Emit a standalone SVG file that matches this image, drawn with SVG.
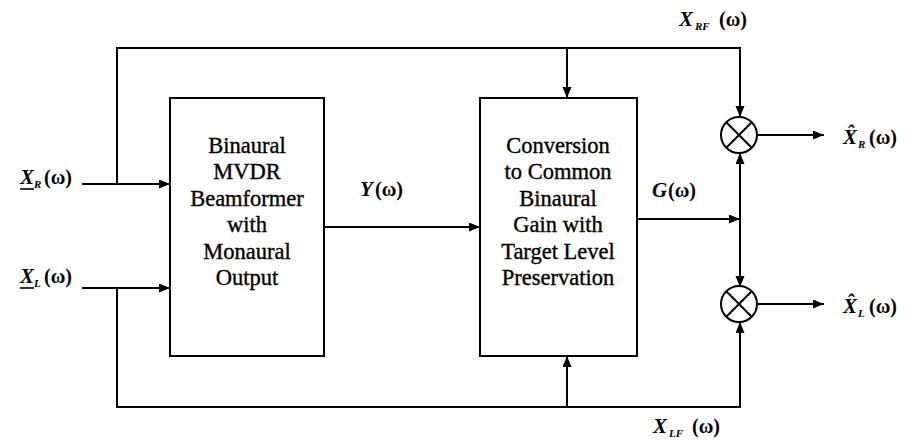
<svg xmlns="http://www.w3.org/2000/svg" width="916" height="444" viewBox="0 0 916 444" font-family="Liberation Serif, Times New Roman, DejaVu Serif, serif">
<style>
.ln{fill:none;stroke:#000;stroke-width:2}
.box{fill:#fff;stroke:#000;stroke-width:2}
.bt{font-size:22.5px;text-anchor:middle;stroke:#000;stroke-width:0.35}
.mx{font-size:21px;font-style:italic;font-weight:bold}
.sb{font-size:11px;font-style:italic;font-weight:bold}
.om{font-size:20px;font-weight:bold}
</style>
<defs>
<marker id="ah" markerUnits="userSpaceOnUse" markerWidth="12" markerHeight="10" refX="11" refY="4.5" orient="auto">
<path d="M0,0 L11,4.5 L0,9 z" fill="#000"/>
</marker>
</defs>
<g id="connectors">
<path class="ln" d="M82,184 H170" marker-end="url(#ah)"/>
<path class="ln" d="M82,288 H170" marker-end="url(#ah)"/>
<path class="ln" d="M117,184 V48 H740 V117" marker-end="url(#ah)"/>
<path class="ln" d="M567,48 V98" marker-end="url(#ah)"/>
<path class="ln" d="M117,288 V407 H740 V322" marker-end="url(#ah)"/>
<path class="ln" d="M567,407 V356" marker-end="url(#ah)"/>
<path class="ln" d="M324,227 H480" marker-end="url(#ah)"/>
<path class="ln" d="M637,219 H740" marker-end="url(#ah)"/>
<path class="ln" d="M740,219 V153" marker-end="url(#ah)"/>
<path class="ln" d="M740,219 V287" marker-end="url(#ah)"/>
<path class="ln" d="M757,135 H824" marker-end="url(#ah)"/>
<path class="ln" d="M757,304 H824" marker-end="url(#ah)"/>
</g>
<g id="beamformer">
<rect class="box" x="170" y="98" width="154" height="258"/>
<text class="bt" x="247" y="153">Binaural</text>
<text class="bt" x="247" y="179">MVDR</text>
<text class="bt" x="247" y="206">Beamformer</text>
<text class="bt" x="247" y="232">with</text>
<text class="bt" x="247" y="259">Monaural</text>
<text class="bt" x="247" y="285">Output</text>
</g>
<g id="conversion">
<rect class="box" x="480" y="98" width="157" height="258"/>
<text class="bt" x="558" y="153">Conversion</text>
<text class="bt" x="558" y="179">to Common</text>
<text class="bt" x="558" y="206">Binaural</text>
<text class="bt" x="558" y="232">Gain with</text>
<text class="bt" x="558" y="259">Target Level</text>
<text class="bt" x="558" y="285">Preservation</text>
</g>
<g id="mult-r">
<circle cx="739" cy="135" r="18" fill="#fff" stroke="#000" stroke-width="2"/>
<path class="ln" d="M726.3,122.3 L751.7,147.7 M751.7,122.3 L726.3,147.7"/>
</g>
<g id="mult-l">
<circle cx="739" cy="304" r="18" fill="#fff" stroke="#000" stroke-width="2"/>
<path class="ln" d="M726.3,291.3 L751.7,316.7 M751.7,291.3 L726.3,316.7"/>
</g>
<g id="label-xr">
<text class="mx" x="20" y="184">X</text>
<text class="sb" x="34" y="188">R</text>
<text class="om" x="44" y="184">(ω)</text>
<path d="M20,189 H34" stroke="#000" stroke-width="1.6"/>
</g>
<g id="label-xl">
<text class="mx" x="20" y="283">X</text>
<text class="sb" x="34" y="287">L</text>
<text class="om" x="44" y="283">(ω)</text>
<path d="M20,288 H34" stroke="#000" stroke-width="1.6"/>
</g>
<g id="label-y">
<text class="mx" x="360" y="196">Y</text>
<text class="om" x="375" y="196">(ω)</text>
</g>
<g id="label-g">
<text class="mx" x="652" y="197">G</text>
<text class="om" x="668" y="197">(ω)</text>
</g>
<g id="label-xrf">
<text class="mx" x="679" y="26">X</text>
<text class="sb" x="695" y="30">RF</text>
<text class="om" x="719" y="26">(ω)</text>
</g>
<g id="label-xlf">
<text class="mx" x="653" y="433">X</text>
<text class="sb" x="669" y="437">LF</text>
<text class="om" x="692" y="433">(ω)</text>
</g>
<g id="label-xhr">
<text class="mx" x="843" y="144">X̂</text>
<text class="sb" x="858" y="148">R</text>
<text class="om" x="869" y="144">(ω)</text>
</g>
<g id="label-xhl">
<text class="mx" x="843" y="313">X̂</text>
<text class="sb" x="858" y="317">L</text>
<text class="om" x="869" y="313">(ω)</text>
</g>
</svg>
